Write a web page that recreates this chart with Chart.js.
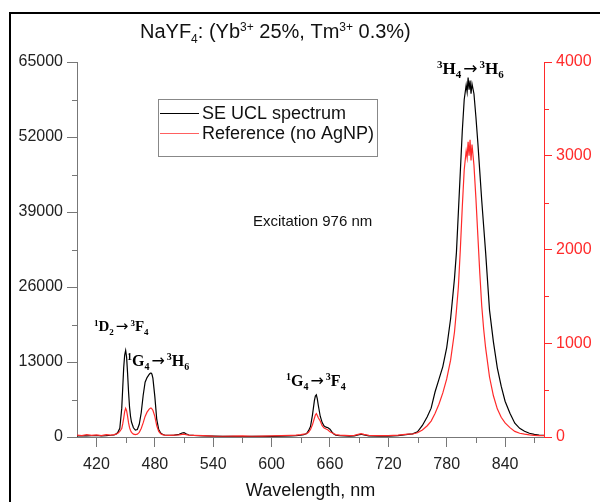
<!DOCTYPE html>
<html>
<head>
<meta charset="utf-8">
<script src="https://cdn.jsdelivr.net/npm/chart.js@4"></script>
<style>
  body { margin: 0; background: #fff; }
  #wrap { width: 600px; height: 502px; }
</style>
</head>
<body>
<div id="wrap"><canvas id="spectrum"></canvas></div>
<script>
// ==========================
// DATA
// ==========================
const wavelength = [
    400, 405, 410, 415, 420, 425, 430, 435, 438, 440, 442, 444, 446, 447, 448, 449, 450, 451, 452, 453,
    454, 455, 456, 458, 460, 462, 464, 466, 468, 470, 472, 474, 475, 476, 477, 478, 480, 482, 484, 486,
    488, 490, 495, 500, 505, 508, 510, 512, 515, 520, 530, 540, 550, 560, 570, 580, 590, 600, 610, 620,
    625, 630, 633, 636, 638, 640, 642, 644, 645, 646, 647, 648, 650, 652, 654, 656, 658, 660, 662, 664,
    666, 670, 675, 680, 685, 690, 692, 695, 700, 710, 720, 730, 740, 745, 750, 755, 760, 764, 768, 772,
    776, 780, 784, 788, 790, 792, 794, 796, 798, 800, 801, 802, 803, 804, 805, 806, 808, 810, 812, 814,
    816, 818, 820, 824, 828, 832, 836, 840, 845, 850, 855, 860, 865, 870, 875, 880
];

// SE UCL spectrum (left axis)
const seUcl = [
    200, 250, 180, 220, 260, 200, 240, 300, 350, 500, 800, 1500, 5000, 8500, 12000, 14200, 15000, 13800, 11000, 7800,
    5200, 3600, 2600, 1600, 1200, 1300, 2200, 4200, 7200, 9500, 10300, 10800, 11000, 11100, 10900, 10200, 7000, 3000, 1300, 700,
    450, 350, 300, 320, 450, 700, 750, 550, 350, 280, 200, 150, 120, 100, 90, 100, 110, 120, 150, 180,
    220, 300, 400, 600, 1100, 1800, 3800, 6300, 7100, 7300, 6600, 5500, 3600, 2500, 1900, 1700, 1600, 1350, 900, 500,
    300, 220, 180, 160, 200, 400, 470, 350, 200, 150, 160, 250, 450, 550, 900, 2000, 3500, 5000, 7800, 10000,
    12200, 15500, 20500, 27500, 32000, 39000, 46000, 53000, 58500, 61000, 59800, 62300, 60200, 61800, 59500, 61200, 59500, 55500, 51000, 46000,
    41000, 36500, 32000, 22000, 16500, 12000, 8800, 6200, 4100, 2400, 1500, 1000, 650, 450, 350, 300
];

// Reference (no AgNP) (right axis)
const reference = [
    20, 15, 25, 18, 22, 15, 25, 20, 25, 30, 40, 60, 90, 140, 200, 270, 305, 280, 220, 150,
    100, 70, 50, 30, 25, 30, 50, 90, 150, 220, 265, 295, 305, 310, 300, 285, 220, 120, 60, 35,
    25, 20, 18, 20, 22, 28, 30, 25, 20, 18, 15, 10, 8, 10, 12, 8, 10, 12, 15, 18,
    20, 25, 30, 35, 50, 80, 130, 200, 235, 250, 230, 205, 170, 120, 95, 85, 75, 55, 45, 35,
    25, 20, 18, 15, 18, 30, 35, 28, 18, 15, 15, 20, 30, 32, 45, 75, 120, 170, 250, 350,
    470, 620, 820, 1120, 1350, 1600, 2000, 2450, 2850, 3050, 2980, 3150, 3000, 3170, 2950, 3120, 2900, 2550, 2150, 1750,
    1400, 1150, 950, 640, 440, 300, 210, 150, 100, 60, 40, 30, 22, 18, 15, 15
];

const xTicks = [420, 480, 540, 600, 660, 720, 780, 840];
const xMinorTicks = [450, 510, 570, 630, 690, 750, 810, 870];
const leftTicks = [0, 13000, 26000, 39000, 52000, 65000];
const leftMinorTicks = [6500, 19500, 32500, 45500, 58500];
const rightTicks = [0, 1000, 2000, 3000, 4000];
const rightMinorTicks = [500, 1500, 2500, 3500];

// ==========================
// STYLE
// ==========================
const SANS = "'Liberation Sans', Arial, sans-serif";
const SERIF = "'Liberation Serif', 'Times New Roman', serif";
const ARROW = "'DejaVu Sans', sans-serif";
const RED = "#ff2a2a";
const AXIS = "#777";

Chart.defaults.font.family = SANS;

// draws text made of pieces, some raised or lowered, arrows in their own font
function richText(ctx, x, y, parts, size, family, weight) {
    let cx = x;
    parts.forEach(p => {
        const kind = p[1];
        const small = kind === "sup" || kind === "sub" ? Math.round(size * 0.62) : size;
        let dy = kind === "sup" ? -size * 0.36 : kind === "sub" ? size * 0.24 : 0;
        if (kind === "arrow") {
            ctx.font = `normal ${size}px ${ARROW}`;
            cx += 2;
            dy = -size * 0.02;
        } else {
            ctx.font = `${weight} ${small}px ${family}`;
        }
        ctx.fillText(p[0], cx, y + dy);
        cx += ctx.measureText(p[0]).width + (kind === "arrow" ? 2 : 0);
    });
    return cx - x;
}

// "¹X₂→³Y₄" style label
function transition(a, b, bn, c, d, dn) {
    return [[a, "sup"], [b], [bn, "sub"], ["\u2192", "arrow"], [c, "sup"], [d], [dn, "sub"]];
}

// ==========================
// EXTRA DRAWING
// ==========================
const decor = {
    id: "decor",
    afterDraw(chart) {
        const ctx = chart.ctx;
        const area = chart.chartArea;
        const sx = chart.scales.x, yl = chart.scales.y, yr = chart.scales.y2;
        ctx.save();

        // outer frame (left and top only visible)
        ctx.strokeStyle = "#000";
        ctx.lineWidth = 2;
        ctx.beginPath();
        ctx.moveTo(10, 510);
        ctx.lineTo(10, 13);
        ctx.lineTo(610, 13);
        ctx.stroke();

        // minor ticks
        ctx.lineWidth = 1;
        ctx.strokeStyle = AXIS;
        ctx.beginPath();
        xMinorTicks.forEach(v => {
            const px = Math.round(sx.getPixelForValue(v)) + 0.5;
            ctx.moveTo(px, area.bottom);
            ctx.lineTo(px, area.bottom + 6);
        });
        leftMinorTicks.forEach(v => {
            const py = Math.round(yl.getPixelForValue(v)) + 0.5;
            ctx.moveTo(area.left, py);
            ctx.lineTo(area.left - 5, py);
        });
        ctx.stroke();
        ctx.strokeStyle = RED;
        ctx.beginPath();
        rightMinorTicks.forEach(v => {
            const py = Math.round(yr.getPixelForValue(v)) + 0.5;
            ctx.moveTo(area.right, py);
            ctx.lineTo(area.right + 5, py);
        });
        ctx.stroke();

        // title
        ctx.fillStyle = "#111";
        ctx.textBaseline = "alphabetic";
        richText(ctx, 140, 38, [
            ["NaYF"], ["4", "sub"], [": (Yb"], ["3+", "sup"], [" 25%, Tm"], ["3+", "sup"], [" 0.3%)"]
        ], 20, SANS, "normal");

        // x axis title
        ctx.font = `18px ${SANS}`;
        ctx.textAlign = "center";
        ctx.fillText("Wavelength, nm", (area.left + area.right) / 2, 496);
        ctx.textAlign = "left";

        // note
        ctx.font = `15px ${SANS}`;
        ctx.fillText("Excitation 976 nm", 253, 226);

        // transitions
        ctx.fillStyle = "#000";
        richText(ctx, 94, 331, transition("1", "D", "2", "3", "F", "4"), 15, SERIF, "bold");
        richText(ctx, 127, 366, transition("1", "G", "4", "3", "H", "6"), 16, SERIF, "bold");
        richText(ctx, 286, 386, transition("1", "G", "4", "3", "F", "4"), 16, SERIF, "bold");
        richText(ctx, 437, 74, transition("3", "H", "4", "3", "H", "6"), 17, SERIF, "bold");

        // legend
        ctx.strokeStyle = "#888";
        ctx.lineWidth = 1;
        ctx.strokeRect(158.5, 99.5, 219, 57);
        const rows = [chart.data.datasets[1], chart.data.datasets[0]];
        rows.forEach((ds, i) => {
            const y = 113 + i * 20;
            ctx.strokeStyle = ds.legendColor;
            ctx.lineWidth = 1.2;
            ctx.beginPath();
            ctx.moveTo(160, y + 0.5);
            ctx.lineTo(199, y + 0.5);
            ctx.stroke();
            ctx.fillStyle = "#111";
            ctx.font = `18px ${SANS}`;
            ctx.textBaseline = "middle";
            ctx.fillText(ds.label, 202, y + 1);
            ctx.textBaseline = "alphabetic";
        });

        ctx.restore();
    }
};

// ==========================
// CHART
// ==========================
const ctx = document.getElementById("spectrum");

new Chart(ctx, {
    type: "line",
    data: {
        datasets: [
            {
                label: "Reference (no AgNP)",
                data: wavelength.map((w, i) => ({ x: w, y: reference[i] })),
                yAxisID: "y2",
                borderColor: RED,
                legendColor: "#ff6060",
                borderWidth: 1.2,
                pointRadius: 0,
                order: 0
            },
            {
                label: "SE UCL spectrum",
                data: wavelength.map((w, i) => ({ x: w, y: seUcl[i] })),
                yAxisID: "y",
                borderColor: "#000",
                legendColor: "#000",
                borderWidth: 1.2,
                pointRadius: 0,
                order: 1
            }
        ]
    },
    options: {
        responsive: true,
        maintainAspectRatio: false,
        animation: false,
        layout: { padding: { top: 62, left: 0, right: 0, bottom: 0 } },
        plugins: {
            legend: { display: false },
            title: { display: false },
            tooltip: { enabled: false }
        },
        scales: {
            x: {
                type: "linear",
                min: 400,
                max: 880,
                afterBuildTicks: s => { s.ticks = xTicks.map(v => ({ value: v })); },
                afterFit: s => { s.height = 65; },
                ticks: {
                    color: "#222",
                    font: { size: 16 },
                    padding: 8,
                    maxRotation: 0,
                    autoSkip: false,
                    callback: v => String(v)
                },
                grid: { drawOnChartArea: false, tickLength: 10, color: AXIS },
                border: { color: AXIS, width: 1 }
            },
            y: {
                position: "left",
                min: 0,
                max: 65000,
                afterBuildTicks: s => { s.ticks = leftTicks.map(v => ({ value: v })); },
                afterFit: s => { s.width = 77; },
                ticks: {
                    color: "#222",
                    font: { size: 16 },
                    padding: 4,
                    callback: v => String(v)
                },
                grid: { drawOnChartArea: false, tickLength: 10, color: AXIS },
                border: { color: AXIS, width: 1 }
            },
            y2: {
                position: "right",
                min: 0,
                max: 4000,
                afterBuildTicks: s => { s.ticks = rightTicks.map(v => ({ value: v })); },
                afterFit: s => { s.width = 56; },
                ticks: {
                    color: RED,
                    font: { size: 16 },
                    padding: 4,
                    callback: v => String(v)
                },
                grid: { drawOnChartArea: false, tickLength: 8, color: RED },
                border: { color: RED, width: 1 }
            }
        }
    },
    plugins: [decor]
});
</script>
</body>
</html>
